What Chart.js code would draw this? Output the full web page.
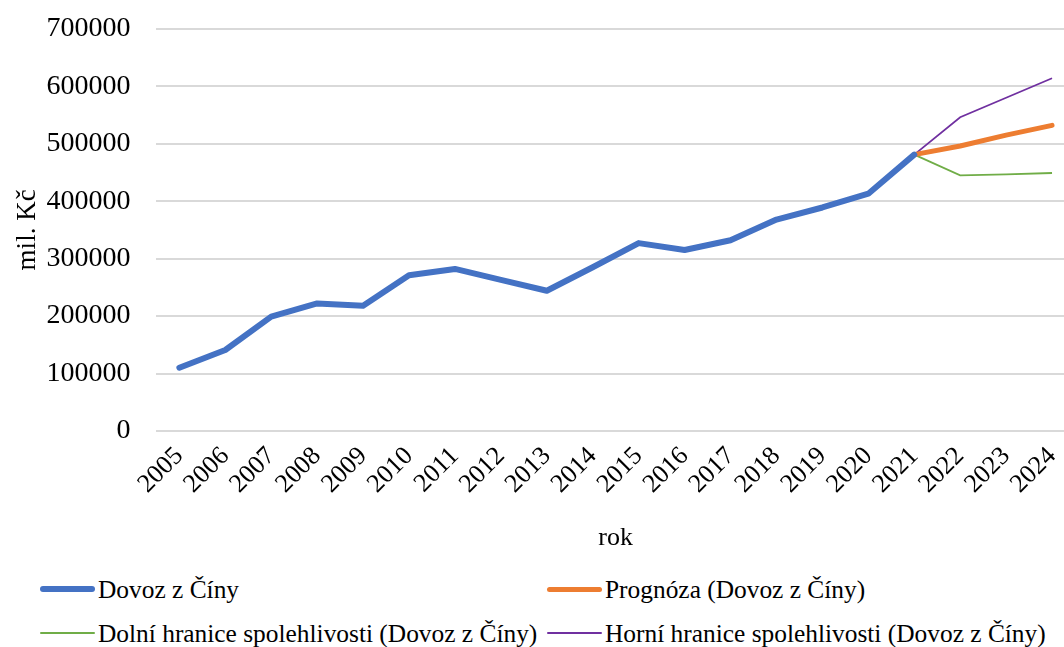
<!DOCTYPE html>
<html>
<head>
<meta charset="utf-8">
<script src="https://cdn.jsdelivr.net/npm/chart.js@4"></script>
<style>
  html, body { margin: 0; padding: 0; background: #fff; }
  #wrap { position: relative; width: 1064px; height: 647px; overflow: hidden; }
  #c { position: absolute; left: -8px; top: -14px; }
  .leg { position: absolute; font-family: "Liberation Serif", "Times New Roman", serif; font-size: 25.4px; color: #000; white-space: nowrap; line-height: 30px; }
  .leg span.ln { position: absolute; left: 0; border-radius: 3px; }
  .leg span.tx { position: absolute; left: 58px; top: 0; }
</style>
</head>
<body>
<div id="wrap">
  <canvas id="c" width="1090" height="572"></canvas>
  <div id="legend"></div>
</div>
<script>
var years = ['2005','2006','2007','2008','2009','2010','2011','2012','2013','2014',
             '2015','2016','2017','2018','2019','2020','2021','2022','2023','2024'];
var dovoz = [110000, 141000, 199000, 222000, 218000, 271000, 282000, 263000, 244000, 285000,
             327000, 315000, 332000, 368000, 389000, 413000, 481000, null, null, null];
var prognoza = [null, null, null, null, null, null, null, null, null, null,
                null, null, null, null, null, null, 481000, 496000, 515000, 532000];
var dolni = [null, null, null, null, null, null, null, null, null, null,
             null, null, null, null, null, null, 481000, 445000, 446500, 449000];
var horni = [null, null, null, null, null, null, null, null, null, null,
             null, null, null, null, null, null, 481000, 546000, 580000, 614000];

var serif = '"Liberation Serif", "Times New Roman", serif';

document.addEventListener("DOMContentLoaded", function () {
  var ctx = document.getElementById('c').getContext('2d');
  var chart = new Chart(ctx, {
    type: 'line',
    data: {
      labels: years,
      datasets: [
        { label: 'Dovoz z Číny', data: dovoz, borderColor: '#4472C4', borderWidth: 6, borderCapStyle: 'round', borderJoinStyle: 'round' },
        { label: 'Prognóza (Dovoz z Číny)', data: prognoza, borderColor: '#ED7D31', borderWidth: 5, borderCapStyle: 'round', borderJoinStyle: 'round' },
        { label: 'Dolní hranice spolehlivosti (Dovoz z Číny)', data: dolni, borderColor: '#70AD47', borderWidth: 1.8 },
        { label: 'Horní hranice spolehlivosti (Dovoz z Číny)', data: horni, borderColor: '#7030A0', borderWidth: 1.8 }
      ]
    },
    options: {
      responsive: false,
      animation: false,
      elements: { point: { radius: 0 }, line: { tension: 0 } },
      layout: { padding: { top: 1, right: 7, bottom: 0, left: 0 } },
      plugins: {
        legend: { display: false },
        tooltip: { enabled: false }
      },
      scales: {
        x: {
          offset: true,
          grid: { display: false },
          border: { display: false },
          ticks: { color: '#000', font: { family: serif, size: 26 }, minRotation: 45, maxRotation: 45, autoSkip: false, padding: 2 },
          title: { display: true, text: 'rok', color: '#000', font: { family: serif, size: 26 }, padding: { top: 21 } }
        },
        y: {
          min: 0,
          max: 700000,
          grid: { color: '#d9d9d9', lineWidth: 2, drawTicks: false },
          border: { display: false },
          ticks: { stepSize: 100000, color: '#000', font: { family: serif, size: 28 }, padding: 26,
                   callback: function (v) { return String(v); } },
          title: { display: true, text: 'mil. Kč', color: '#000', font: { family: serif, size: 27 }, padding: { top: 20, bottom: -24 } }
        }
      }
    }
  });

  // legend in two columns under the chart
  var pos = [[40, 574], [547, 574], [40, 618], [547, 618]];
  var html = '';
  chart.data.datasets.forEach(function (ds, i) {
    var w = ds.borderWidth;
    html += '<div class="leg" style="left:' + pos[i][0] + 'px;top:' + pos[i][1] + 'px">' +
      '<span class="ln" style="top:' + (15 - w / 2) + 'px;width:55px;height:' + w + 'px;background:' + ds.borderColor + '"></span>' +
      '<span class="tx">' + ds.label + '</span></div>';
  });
  document.getElementById('legend').innerHTML = html;
});
</script>
</body>
</html>
